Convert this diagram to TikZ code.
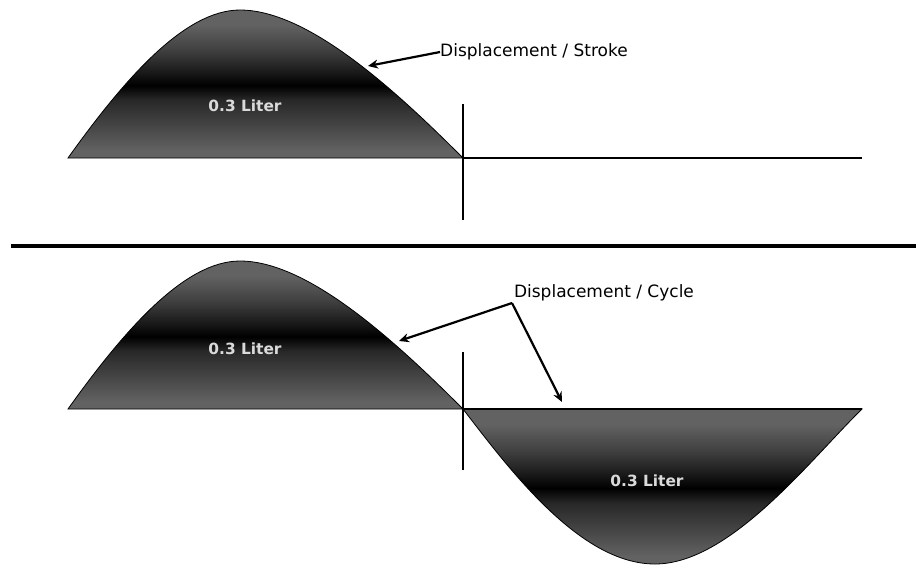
\documentclass[tikz,border=0pt]{standalone}
\usepackage{fontspec}
\setmainfont{DejaVu Sans}
\usetikzlibrary{arrows.meta}
\definecolor{humpgray}{HTML}{626262}
\definecolor{literfg}{HTML}{DADADA}
\pgfdeclareverticalshading{humpshade}{100bp}{color(0bp)=(humpgray); color(25bp)=(humpgray); color(27.5bp)=(humpgray); color(34.5bp)=(rgb,255:red,74;green,74;blue,74); color(44.6bp)=(rgb,255:red,40;green,40;blue,40); color(49.5bp)=(black); color(54.5bp)=(rgb,255:red,28;green,28;blue,28); color(61.5bp)=(rgb,255:red,64;green,64;blue,64); color(70bp)=(humpgray); color(75bp)=(humpgray); color(100bp)=(humpgray)}
\begin{document}
\begin{tikzpicture}[x=1pt,y=-1pt,
  hump/.style={shading=humpshade,draw=black,line width=0.8pt},
  axisline/.style={line width=2pt},
  callout/.style={line width=2.2pt,-{Stealth[length=10pt,width=9pt]}},
  vol/.style={font=\bfseries\fontsize{15.4}{17}\selectfont,text=literfg,inner sep=0pt},
  lbl/.style={font=\fontsize{17}{19}\selectfont,inner sep=0pt}]
\useasboundingbox (0,0) rectangle (916,566);
% top panel
\shadedraw[hump] (68,158) .. controls (125,78) and (185,10) .. (240,10) .. controls (310,10) and (400,95) .. (463,158) -- cycle;
\node[vol] (v1) at (245,106) {0.3 Liter};
\coordinate (c1t) at (463,104);
\coordinate (c1b) at (463,220);
\coordinate (z1) at (463,158);
\coordinate (e1) at (862,158);
\draw[axisline] (c1t) -- (c1b);
\draw[axisline] (z1) -- (e1);
\node[lbl,anchor=west] (stroke) at (440,52) {Displacement / Stroke};
\coordinate (t1) at (368,66);
\draw[callout] (stroke.west) -- (t1);
% divider
\coordinate (dl) at (11,246);
\coordinate (dr) at (916,246);
\draw[line width=4pt] (dl) -- (dr);
% bottom panel
\shadedraw[hump] (68,409) .. controls (125,329) and (185,261) .. (240,261) .. controls (310,261) and (400,346) .. (463,409) -- cycle;
\shadedraw[hump] (463,409) .. controls (510,470) and (580,564) .. (655,564) .. controls (730,564) and (810,460) .. (862,409) -- cycle;
\node[vol] (v2) at (245,349) {0.3 Liter};
\node[vol] (v3) at (647,481) {0.3 Liter};
\coordinate (c2t) at (463,352);
\coordinate (c2b) at (463,470);
\coordinate (z2) at (463,409);
\coordinate (e2) at (862,409);
\draw[axisline] (c2t) -- (c2b);
\draw[axisline] (z2) -- (e2);
\node[lbl] (cycle) at (604,293) {Displacement / Cycle};
\coordinate (j) at (512,303);
\coordinate (t2) at (399,341);
\coordinate (t3) at (562,402);
\draw[callout] (j) -- (t2);
\draw[callout] (j) -- (t3);
\end{tikzpicture}
\end{document}
